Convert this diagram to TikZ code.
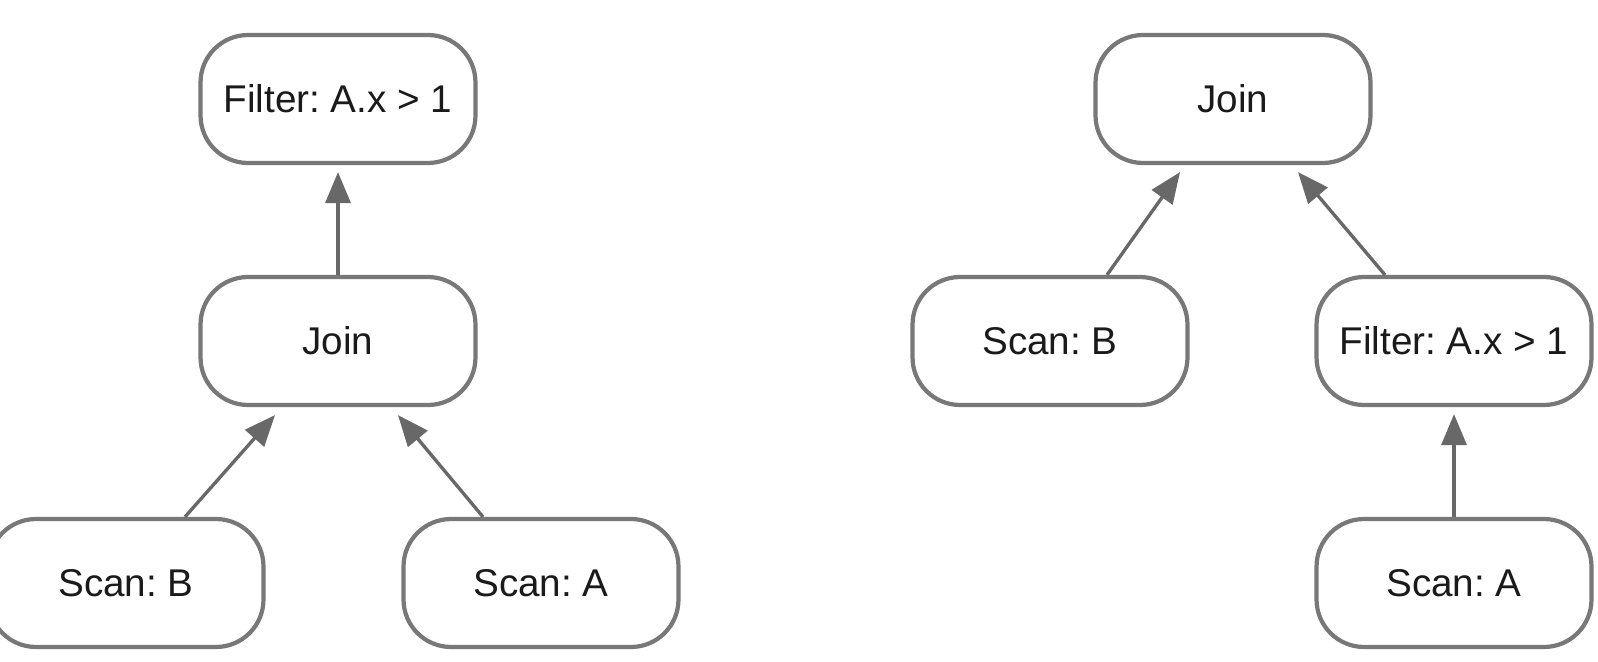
\documentclass[tikz,border=0pt]{standalone}
\usepackage{fontspec}
\setmainfont{Liberation Sans}
\usetikzlibrary{arrows.meta}
\definecolor{boxline}{HTML}{787878}
\definecolor{arrline}{HTML}{686868}
\definecolor{txt}{HTML}{1A1A1A}
\frenchspacing
\tikzset{
  opbox/.style={draw=boxline, line width=2.4pt, rounded corners=0.95cm,
    minimum width=5.5cm, minimum height=2.56cm, inner sep=0pt,
    text=txt, font=\fontsize{22}{26}\selectfont, fill=white},
  flow/.style={draw=arrline, line width=1.9pt,
    -{Triangle[length=0.62cm,width=0.5cm]}}
}
\begin{document}
\begin{tikzpicture}[x=0.02cm,y=-0.02cm]
\useasboundingbox (0,0) rectangle (1598,662);
% left tree
\node[opbox] (lf) at (338,99) {Filter: A.x > 1};
\node[opbox] (lj) at (338,341) {Join};
\node[opbox] (lb) at (126,583) {Scan: B};
\node[opbox] (la) at (541,583) {Scan: A};
% right tree
\node[opbox] (rj) at (1233,99) {Join};
\node[opbox] (rb) at (1050,341) {Scan: B};
\node[opbox] (rf) at (1454,341) {Filter: A.x > 1};
\node[opbox] (ra) at (1454,583) {Scan: A};
% left connectors
\draw[flow] (lj.north) -- ([yshift=-0.14cm]lf.south);
\draw[flow] ([xshift=1.18cm]lb.north) -- ([xshift=-1.26cm,yshift=-0.16cm]lj.south);
\draw[flow] ([xshift=-1.16cm]la.north) -- ([xshift=1.2cm,yshift=-0.16cm]lj.south);
% right connectors
\draw[flow] ([xshift=1.14cm]rb.north) -- ([xshift=-1.06cm,yshift=-0.14cm]rj.south);
\draw[flow] ([xshift=-1.38cm]rf.north) -- ([xshift=1.3cm,yshift=-0.14cm]rj.south);
\draw[flow] (ra.north) -- ([yshift=-0.14cm]rf.south);
\end{tikzpicture}
\end{document}
